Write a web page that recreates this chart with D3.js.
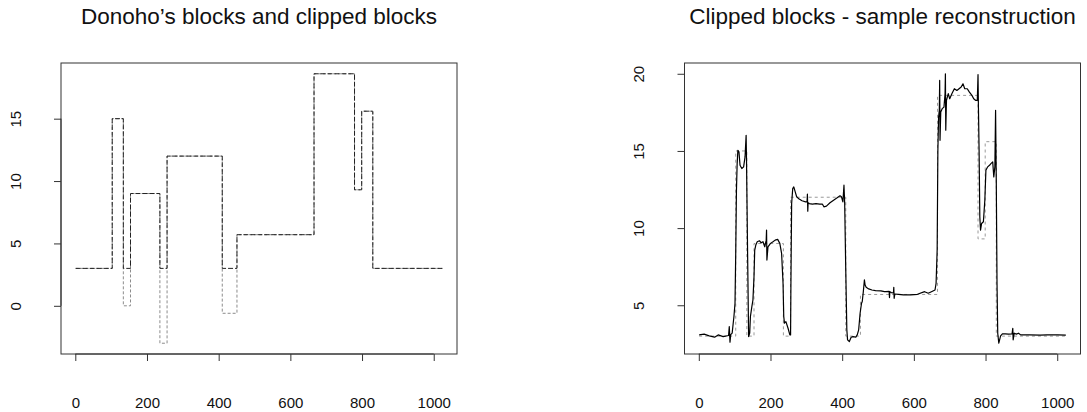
<!DOCTYPE html>
<html lang="en">
<head>
<meta charset="UTF-8">
<title>Clipped blocks</title>
<script src="https://d3js.org/d3.v7.min.js"></script>
<style>
  body { margin: 0; background: #fff; }
  svg text { font-family: "Liberation Sans", Arial, sans-serif; fill: #111; }
</style>
</head>
<body>
<div id="chart"></div>
<script>
// Donoho's blocks: start index of each level, and the levels
const blockStarts = [1, 103, 134, 154, 236, 256, 410, 451, 666, 779, 799, 830];
const blockEnd = 1024;
const blockLevels = [3, 15, 0, 9, -3, 12, -0.6, 5.7, 18.6, 9.3, 15.6, 3];
const clippedLevels = [3, 15, 3, 9, 3, 12, 3, 5.7, 18.6, 9.3, 15.6, 3];

// sample reconstruction
const reconX = [1, 15, 29, 44, 54, 68, 83, 85, 87, 89, 93, 98, 101, 103, 105, 107, 109, 112, 115, 120,
  125, 129, 132, 133, 136, 139, 142, 144, 148, 151, 154, 156, 159, 163, 169, 174, 179, 184, 188, 189,
  190, 193, 200, 207, 213, 220, 226, 231, 235, 237, 239, 243, 249, 254, 256, 257, 259, 262, 265, 269,
  273, 280, 288, 298, 302, 303, 304, 305, 308, 317, 327, 337, 345, 349, 356, 366, 376, 386, 394, 398,
  402, 405, 407, 410, 413, 415, 420, 425, 430, 438, 442, 446, 450, 454, 456, 459, 462, 464, 467, 474,
  483, 493, 508, 518, 522, 531, 532, 533, 537, 543, 544, 545, 547, 557, 571, 591, 610, 630, 640, 649,
  659, 662, 665, 667, 669, 671, 672, 673, 675, 679, 684, 687, 688, 689, 691, 696, 700, 706, 713, 720,
  726, 732, 737, 742, 749, 755, 762, 767, 772, 777, 779, 780, 782, 784, 786, 789, 794, 798, 801, 806,
  811, 815, 820, 823, 826, 828, 830, 832, 834, 837, 842, 847, 855, 864, 874, 876, 877, 880, 886, 892,
  898, 923, 952, 972, 1001, 1024];
const reconY = [3.08, 3.13, 3.02, 2.93, 3.08, 2.97, 3.04, 3.62, 2.61, 3.1, 3.19, 4.27, 5.13, 8.36, 12.46, 14.18, 15.04, 14.94, 14.07, 13.86,
  13.97, 14.61, 16.01, 14.61, 8.58, 2.97, 3.19, 4.27, 4.91, 5.34, 6.85, 8.58, 8.9, 9.12, 9.18, 9.05, 9.12, 8.79, 9.22, 9.87,
  7.93, 8.79, 9.01, 9.12, 9.22, 9.27, 9.01, 8.36, 6.42, 4.27, 3.84, 3.94, 3.51, 3.08, 3.08, 6.42, 11.59, 12.56, 12.67, 12.35,
  12.03, 11.88, 11.77, 11.7, 11.7, 12.2, 11.1, 11.65, 11.59, 11.55, 11.59, 11.55, 11.55, 11.38, 11.42, 11.64, 11.81, 11.96, 12.09, 12.03,
  11.7, 12.78, 11.59, 7.28, 3.41, 2.76, 2.65, 2.93, 2.97, 2.93, 3.08, 3.41, 4.48, 5.13, 5.24, 5.88, 6.64, 6.31, 6.16, 6.06,
  5.99, 5.95, 5.93, 5.88, 5.88, 5.9, 5.5, 5.88, 5.82, 5.8, 6.16, 5.45, 5.73, 5.71, 5.67, 5.67, 5.71, 5.88, 5.78, 5.88,
  5.99, 6.42, 8.58, 15.04, 17.2, 17.63, 19.57, 15.69, 17.52, 17.74, 17.84, 18.71, 20.0, 16.34, 18.28, 18.71, 18.38, 18.71, 19.03, 18.92,
  19.03, 19.14, 19.35, 19.03, 19.03, 18.81, 18.6, 18.38, 18.28, 18.28, 19.95, 18.06, 15.04, 10.73, 9.87, 10.3, 10.41, 11.81, 13.75, 13.97,
  14.07, 14.18, 14.29, 13.32, 13.97, 17.63, 12.89, 6.42, 3.19, 2.54, 3.02, 3.15, 3.15, 3.13, 3.15, 3.51, 2.76, 3.19, 3.13, 3.19,
  3.08, 3.08, 3.06, 3.08, 3.08, 3.06];

const xTicks = [0, 200, 400, 600, 800, 1000];
const leftYTicks = [0, 5, 10, 15];
const rightYTicks = [5, 10, 15, 20];
const titles = ["Donoho\u2019s blocks and clipped blocks", "Clipped blocks - sample reconstruction"];

const W = 1087, H = 412;
const svg = d3.select('#chart').append('svg')
  .attr('width', W)
  .attr('height', H);

// R style axis range: data extent padded by 4% each side
function rPad(ext) {
  const d = (ext[1] - ext[0]) * 0.04;
  return [ext[0] - d, ext[1] + d];
}

// step points for a block function
function steps(levels) {
  const pts = blockStarts.map((s, i) => [s, levels[i]]);
  pts.push([blockEnd, levels[levels.length - 1]]);
  return pts;
}

const panels = [
  { left: 61, yTicks: leftYTicks, yExt: d3.extent(blockLevels) },
  { left: 684.5, yTicks: rightYTicks, yExt: d3.extent(reconY) }
];
const boxTop = 63, boxBottom = 354, pw = 396;

panels.forEach((p, k) => {
  const g = svg.append('g');
  const x = d3.scaleLinear().domain(rPad([1, blockEnd])).range([p.left, p.left + pw]);
  const y = d3.scaleLinear().domain(rPad(p.yExt)).range([boxBottom, boxTop]);

  const stepLine = d3.line()
    .x(d => x(d[0]))
    .y(d => y(d[1]))
    .curve(d3.curveStepAfter);

  if (k === 0) {
    // original blocks, grey dotted
    g.append('path')
      .attr('d', stepLine(steps(blockLevels)))
      .attr('fill', 'none')
      .attr('stroke', '#8c8c8c')
      .attr('stroke-width', 1)
      .attr('stroke-dasharray', '3,2');
    // clipped blocks, dark dashed
    g.append('path')
      .attr('d', stepLine(steps(clippedLevels)))
      .attr('fill', 'none')
      .attr('stroke', '#222')
      .attr('stroke-width', 1)
      .attr('stroke-dasharray', '5,2');
  } else {
    g.append('path')
      .attr('d', stepLine(steps(clippedLevels)))
      .attr('fill', 'none')
      .attr('stroke', '#9a9a9a')
      .attr('stroke-width', 1)
      .attr('stroke-dasharray', '3,3');
    const recon = reconX.map((v, i) => [v, reconY[i]]);
    g.append('path')
      .attr('d', d3.line().x(d => x(d[0])).y(d => y(d[1]))(recon))
      .attr('fill', 'none')
      .attr('stroke', '#000')
      .attr('stroke-width', 1.2)
      .attr('stroke-linejoin', 'round');
  }

  // box
  g.append('rect')
    .attr('x', p.left).attr('y', boxTop)
    .attr('width', pw).attr('height', boxBottom - boxTop)
    .attr('fill', 'none')
    .attr('stroke', '#333')
    .attr('stroke-width', 1);

  // x axis
  const ax = g.append('g')
    .attr('transform', `translate(0,${boxBottom})`)
    .call(d3.axisBottom(x).tickValues(xTicks).tickFormat(d3.format('d')).tickSize(7).tickPadding(36));
  ax.select('.domain').attr('d', `M${x(xTicks[0])},0H${x(xTicks[xTicks.length - 1])}`).attr('stroke', '#333');
  ax.selectAll('line').attr('stroke', '#333');
  ax.selectAll('text').style('font-size', '15px').attr('fill', '#111');
  ax.attr('font-family', null);

  // y axis
  const ay = g.append('g')
    .attr('transform', `translate(${p.left},0)`)
    .call(d3.axisLeft(y).tickValues(p.yTicks).tickSize(7));
  ay.select('.domain').attr('d', `M0,${y(p.yTicks[0])}V${y(p.yTicks[p.yTicks.length - 1])}`).attr('stroke', '#333');
  ay.selectAll('line').attr('stroke', '#333');
  ay.selectAll('text')
    .attr('x', 0).attr('dy', 0)
    .attr('text-anchor', 'middle')
    .attr('transform', 'translate(-40.5,0) rotate(-90)')
    .style('font-size', '15px')
    .attr('fill', '#111');
  ay.attr('font-family', null);

  // title
  svg.append('text')
    .attr('x', p.left + pw / 2)
    .attr('y', 24)
    .attr('text-anchor', 'middle')
    .style('font-size', '22.5px')
    .text(titles[k]);
});
</script>
</body>
</html>
